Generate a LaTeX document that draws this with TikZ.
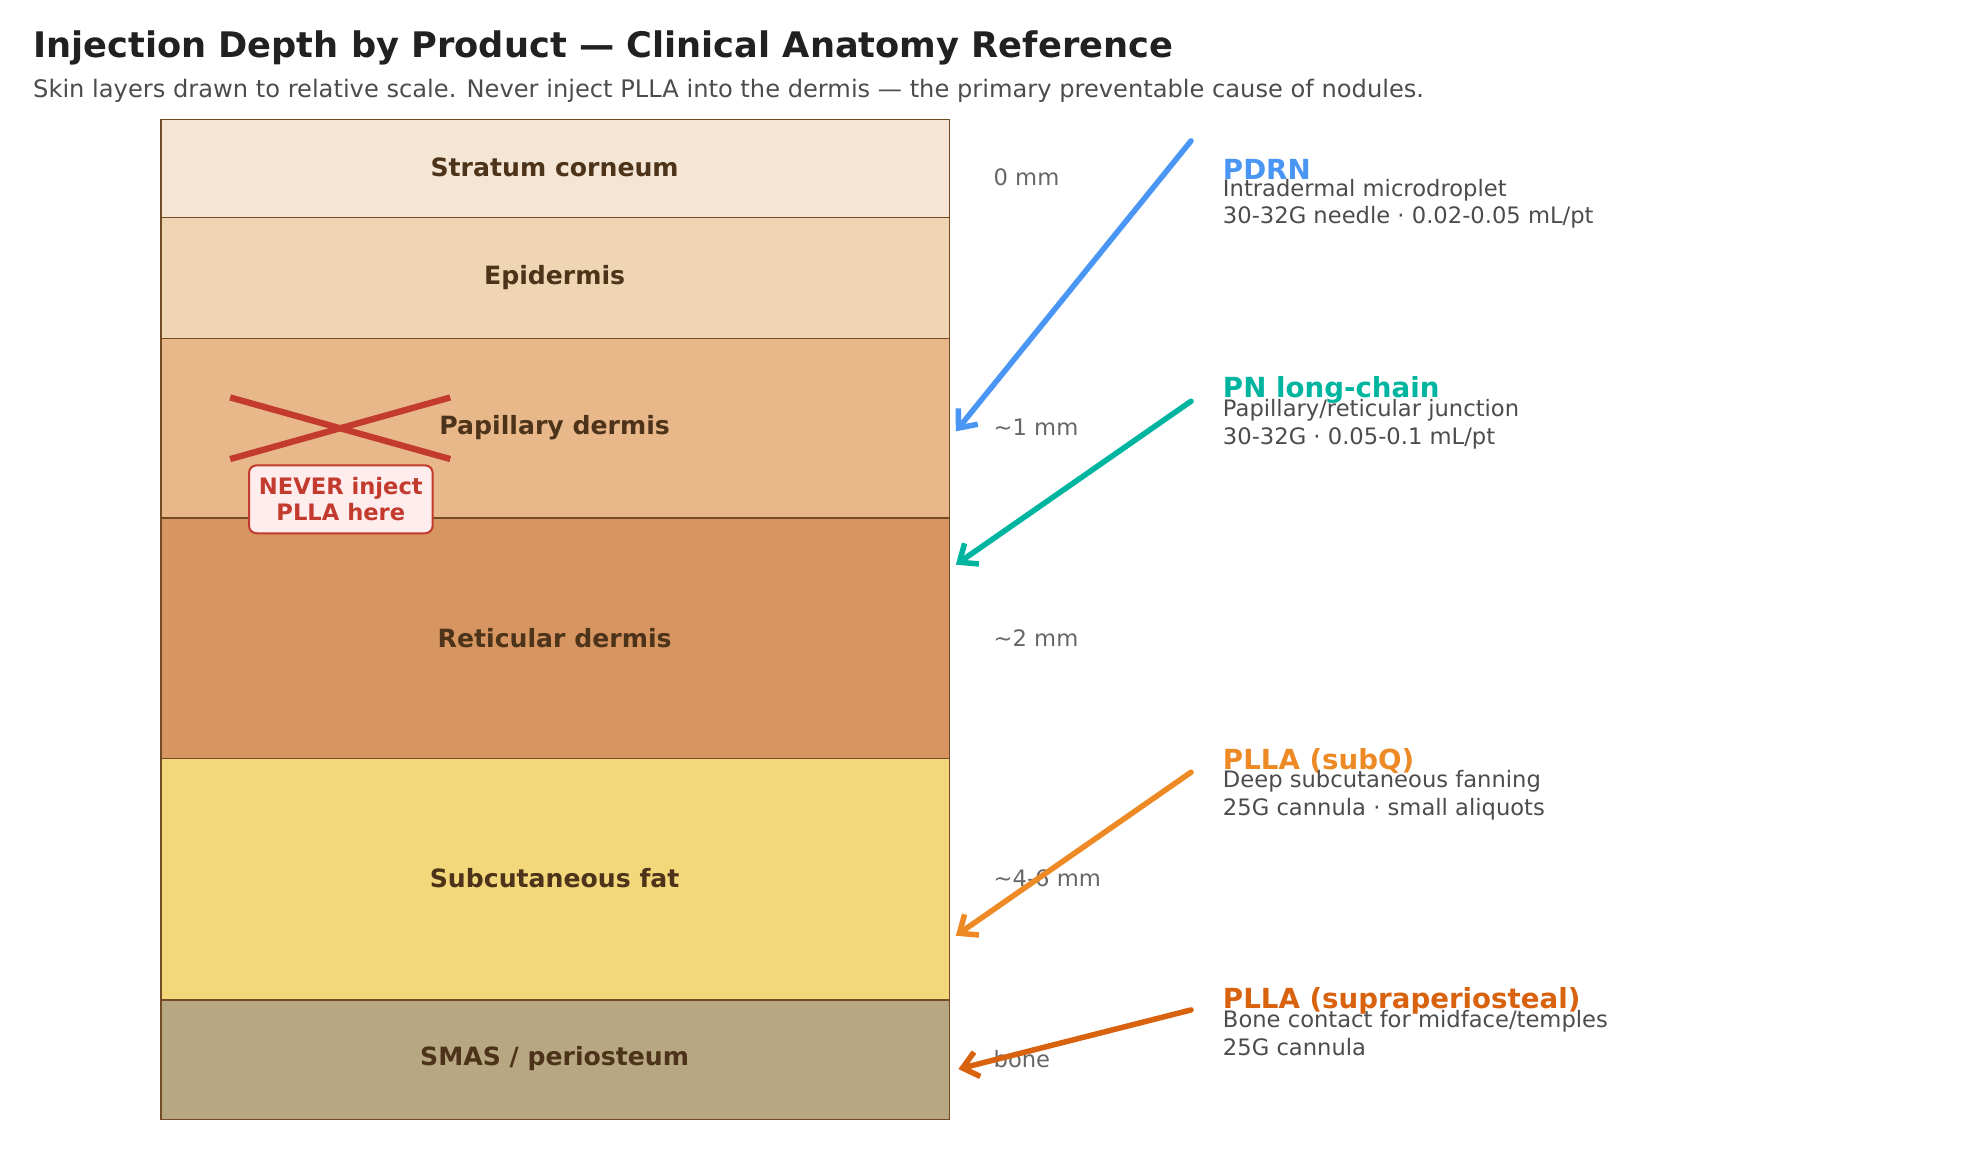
\documentclass[tikz,border=0pt]{standalone}
\usepackage{fontspec}
\usetikzlibrary{arrows.meta}
\setmainfont{DejaVu Sans}
\begin{document}
\begin{tikzpicture}[x=0.5pt,y=-0.5pt,
    layer/.style={draw=brown!60!black, line width=0.6pt},
    lname/.style={font=\bfseries\fontsize{10}{12}\selectfont, text=brown!40!black},
    depth/.style={anchor=west, font=\fontsize{9}{11}\selectfont, text=black!60},
    prod/.style={anchor=west, font=\bfseries\fontsize{11}{13}\selectfont, inner sep=0pt},
    info/.style={anchor=north west, align=left, font=\fontsize{9}{11}\selectfont, text=black!70, inner sep=0pt},
    inj/.style={-{Straight Barb[length=6pt,width=10pt]}, line width=2.2pt, line cap=round}]
    \useasboundingbox (0,0) rectangle (1560,916);
    \definecolor{cpdrn}{HTML}{4A96F5}
    \definecolor{cpn}{HTML}{00B5A0}
    \definecolor{csub}{HTML}{EE8A26}
    \definecolor{csup}{HTML}{D9620F}
    \definecolor{cred}{HTML}{C33A2E}

    \node[anchor=west, font=\bfseries\fontsize{14}{16}\selectfont, text=black!87, inner sep=0pt] (title) at (26,38) {Injection Depth by Product — Clinical Anatomy Reference};
    \node[anchor=west, font=\fontsize{9.6}{11}\selectfont, text=black!70, inner sep=0pt] (sub) at (26,72) {Skin layers drawn to relative scale. Never inject PLLA into the dermis — the primary preventable cause of nodules.};

    % layers
    \draw[layer, fill={rgb,255:red,244;green,229;blue,212}] (128,95) rectangle (755,173);
    \draw[layer, fill={rgb,255:red,239;green,213;blue,179}] (128,173) rectangle (755,269);
    \draw[layer, fill={rgb,255:red,232;green,184;blue,139}] (128,269) rectangle (755,412);
    \draw[layer, fill={rgb,255:red,215;green,150;blue,97}] (128,412) rectangle (755,603);
    \draw[layer, fill={rgb,255:red,242;green,216;blue,123}] (128,603) rectangle (755,795);
    \draw[layer, fill={rgb,255:red,184;green,167;blue,131}] (128,795) rectangle (755,890);

    \node[lname] (sc) at (441,133) {Stratum corneum};
    \node[lname] (ep) at (441,221) {Epidermis};
    \node[lname] (pd) at (441,340) {Papillary dermis};
    \node[lname] (rd) at (441,507) {Reticular dermis};
    \node[lname] (sf) at (441,698) {Subcutaneous fat};
    \node[lname] (sm) at (441,842) {SMAS / periosteum};

    % depth marks
    \node[depth] (d0) at (783,141) {0 mm};
    \node[depth] (d1) at (783,340) {\textasciitilde1 mm};
    \node[depth] (d2) at (783,507) {\textasciitilde2 mm};
    \node[depth] (d3) at (783,698) {\textasciitilde4-6 mm};
    \node[depth] (d4) at (783,842) {bone};

    % forbidden zone
    \draw[cred, line width=2.5pt] (183,316) -- (358,365);
    \draw[cred, line width=2.5pt] (183,365) -- (358,316);
    \node[draw=cred, fill=red!7, rounded corners=3pt, line width=0.8pt, align=center, text=cred,
          font=\bfseries\fontsize{9}{10.5}\selectfont, minimum width=73pt, minimum height=27pt] (never) at (271,397) {NEVER inject\\PLLA here};

    % products
    \node[prod, text=cpdrn] (pdrn) at (972,135) {PDRN};
    \node[info] (pdrni) at (972,142) {Intradermal microdroplet\\30-32G needle · 0.02-0.05 mL/pt};
    \node[prod, text=cpn] (pn) at (972,310) {PN long-chain};
    \node[info] (pni) at (972,317) {Papillary/reticular junction\\30-32G · 0.05-0.1 mL/pt};
    \node[prod, text=csub] (subq) at (972,605) {PLLA (subQ)};
    \node[info] (subqi) at (972,612) {Deep subcutaneous fanning\\25G cannula · small aliquots};
    \node[prod, text=csup] (supra) at (972,796) {PLLA (supraperiosteal)};
    \node[info] (suprai) at (972,803) {Bone contact for midface/temples\\25G cannula};

    \coordinate (a1) at (947,112); \coordinate (b1) at (760,343);
    \coordinate (a2) at (947,319); \coordinate (b2) at (760,449);
    \coordinate (a3) at (947,614); \coordinate (b3) at (760,744);
    \coordinate (a4) at (947,803); \coordinate (b4) at (762,850);
    \draw[inj, cpdrn] (a1) -- (b1);
    \draw[inj, cpn] (a2) -- (b2);
    \draw[inj, csub] (a3) -- (b3);
    \draw[inj, csup] (a4) -- (b4);
\end{tikzpicture}
\end{document}
